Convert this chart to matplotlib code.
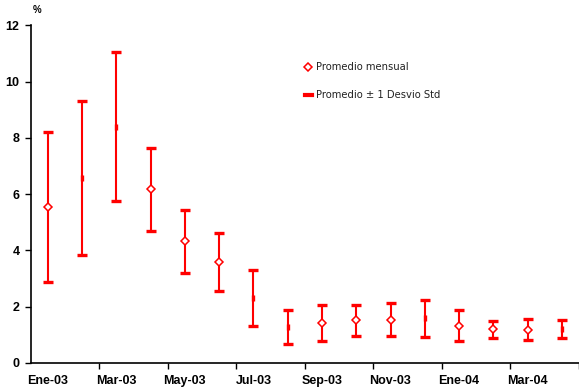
import matplotlib
matplotlib.use("Agg")
import matplotlib.pyplot as plt
from matplotlib.lines import Line2D

meses = ["Ene-03", "Feb-03", "Mar-03", "Abr-03", "May-03", "Jun-03", "Jul-03", "Ago-03",
         "Sep-03", "Oct-03", "Nov-03", "Dic-03", "Ene-04", "Feb-04", "Mar-04", "Abr-04"]
promedio = [5.54, 6.57, 8.40, 6.17, 4.32, 3.59, 2.30, 1.28, 1.43, 1.51, 1.54, 1.58, 1.33, 1.20, 1.18, 1.21]
desvio = [2.68, 2.74, 2.65, 1.47, 1.11, 1.02, 0.99, 0.60, 0.64, 0.54, 0.59, 0.67, 0.56, 0.30, 0.37, 0.33]
con_marcador = [True, False, False, True, True, True, False, False,
                True, True, True, False, True, True, True, False]
yticks = [0, 2, 4, 6, 8, 10, 12]

fig = plt.figure(figsize=(5.79, 3.89), dpi=100)
ax = fig.add_axes([0.053, 0.067, 0.947, 0.868])

x = list(range(len(meses)))
red = "#FF0000"
ax.errorbar(x, promedio, yerr=desvio, fmt="none", ecolor=red, elinewidth=1.5,
            capsize=3.8, capthick=2.4, zorder=2)

xm = [xi for xi, m in zip(x, con_marcador) if m]
ym = [yi for yi, m in zip(promedio, con_marcador) if m]
xn = [xi for xi, m in zip(x, con_marcador) if not m]
yn = [yi for yi, m in zip(promedio, con_marcador) if not m]
ax.plot(xm, ym, ls="none", marker="D", ms=4.5, mfc="white", mec=red, mew=1.1, zorder=3)
ax.plot(xn, yn, ls="none", marker="|", ms=5, mec=red, mew=2.4, zorder=3)

ax.set_ylim(0, 12)
ax.set_xlim(-0.5, (579 - 30.7) / 34.5 - 0.5)
ax.set_yticks(yticks)
ax.set_yticklabels([str(v) for v in yticks], fontsize=9, fontweight="bold",
                   family="Liberation Sans")
ax.set_xticks(x[::2])
ax.set_xticklabels(meses[::2], fontsize=9, fontweight="bold", family="Liberation Sans")
ax.set_xticks([i + 1.5 for i in range(0, 15, 2)], minor=True)
ax.tick_params(axis="x", which="major", length=0, pad=9)
ax.tick_params(axis="x", which="minor", length=4, width=1, direction="out")
ax.tick_params(axis="y", length=4, width=1, direction="out", pad=4)
for s in ["top", "right"]:
    ax.spines[s].set_visible(False)
for s in ["left", "bottom"]:
    ax.spines[s].set_linewidth(1.2)

fig.text(37 / 579, 1 - 10 / 389, "%", fontsize=7, fontweight="bold",
         family="Liberation Sans", ha="center", va="center")

handles = [Line2D([], [], ls="none", marker="D", ms=4.5, mfc="white", mec=red, mew=1.1),
           Line2D([], [], color=red, lw=3)]
leg = fig.legend(handles, ["Promedio mensual", "Promedio ± 1 Desvio Std"],
                 loc="upper left", bbox_to_anchor=(305 / 579, 1 - 62 / 389),
                 frameon=False, fontsize=7.2, handlelength=0.65, handletextpad=0.45,
                 labelspacing=1.8, borderaxespad=0, borderpad=0)
for t in leg.get_texts():
    t.set_color("#222222")
    t.set_family("DejaVu Sans")

fig.savefig("out.png", dpi=100)
